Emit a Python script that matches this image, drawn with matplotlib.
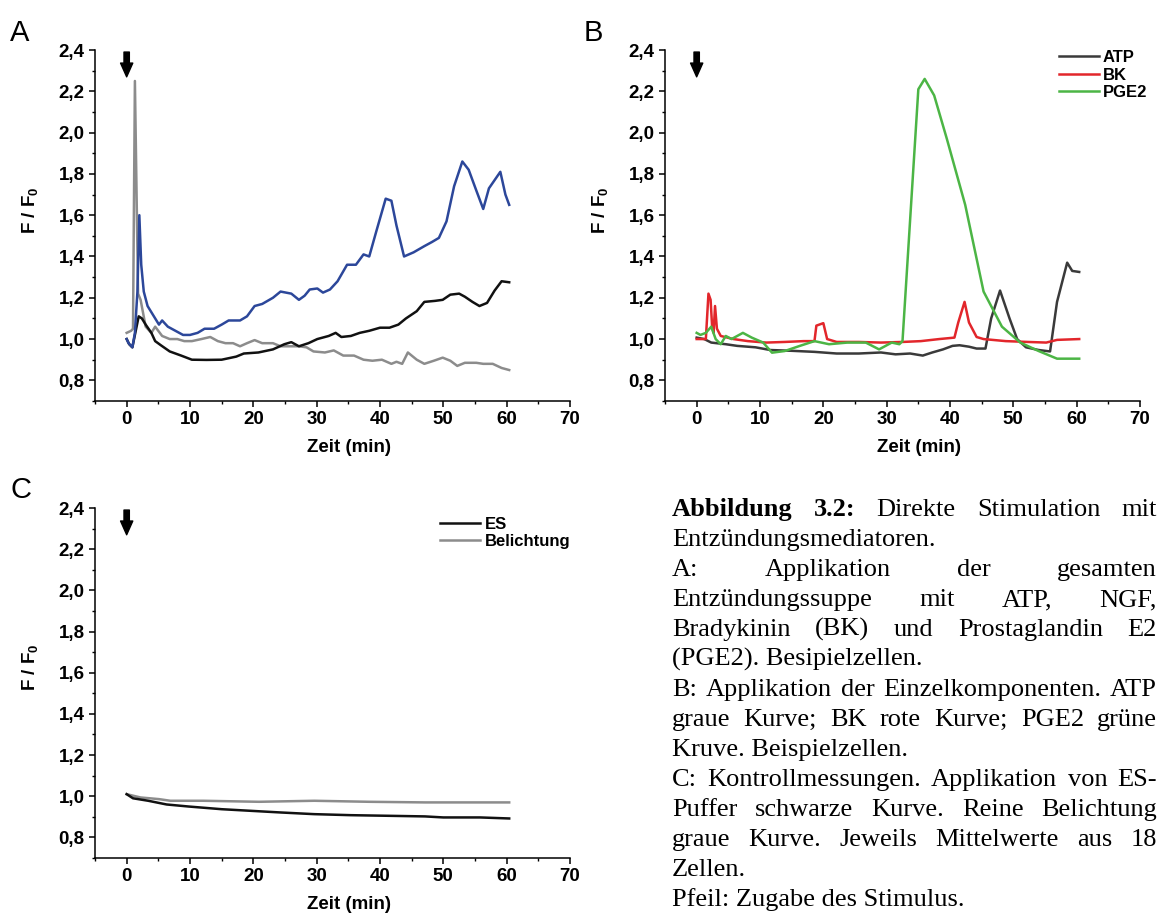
import numpy as np
import matplotlib
matplotlib.use("Agg")
import matplotlib.pyplot as plt
from matplotlib.ticker import MultipleLocator, FuncFormatter

# ---- data ----
# Panel A: whole inflammatory soup, example cells
a_blue_t = [0, 0.3, 0.9, 1.3, 1.7, 2.0, 2.3, 2.7, 3.3, 3.9, 4.5, 5.1, 5.6, 6.5, 7.7, 8.9, 10.0, 11.2,
            12.3, 13.8, 15.0, 16.1, 17.9, 19.0, 20.2, 21.4, 23.1, 24.3, 26.0, 27.2, 28.1, 28.9, 30.1,
            31.0, 32.1, 33.3, 34.8, 36.2, 37.4, 38.3, 39.4, 40.9, 41.8, 42.6, 43.8, 45.3, 47.0, 48.2,
            49.3, 50.5, 51.7, 53.0, 54.0, 55.2, 56.3, 57.2, 59.0, 59.8, 60.4]
a_blue_v = [1.00, 0.98, 0.96, 1.03, 1.23, 1.60, 1.36, 1.23, 1.16, 1.13, 1.10, 1.07, 1.09, 1.06, 1.04,
            1.02, 1.02, 1.03, 1.05, 1.05, 1.07, 1.09, 1.09, 1.11, 1.16, 1.17, 1.20, 1.23, 1.22, 1.19,
            1.21, 1.24, 1.245, 1.225, 1.24, 1.28, 1.36, 1.36, 1.41, 1.40, 1.52, 1.68, 1.67, 1.55, 1.40,
            1.42, 1.45, 1.47, 1.49, 1.57, 1.74, 1.86, 1.82, 1.72, 1.63, 1.73, 1.81, 1.70, 1.65]

a_black_t = [0, 0.4, 0.9, 1.3, 1.9, 2.4, 3.0, 3.9, 4.5, 5.4, 6.8, 8.6, 10.3, 12.6, 15.0, 17.3, 18.5,
             20.8, 23.1, 24.9, 26.0, 27.2, 28.7, 30.1, 31.9, 33.0, 33.9, 35.4, 36.8, 38.3, 40.0, 41.5,
             42.9, 44.1, 45.8, 47.0, 48.7, 49.9, 51.1, 52.5, 53.4, 54.6, 55.7, 56.9, 58.1, 59.2, 60.4]
a_black_v = [1.00, 0.975, 0.96, 1.02, 1.11, 1.10, 1.07, 1.03, 0.99, 0.97, 0.94, 0.92, 0.90, 0.899,
             0.90, 0.915, 0.93, 0.935, 0.95, 0.975, 0.985, 0.965, 0.98, 1.00, 1.015, 1.03, 1.01, 1.015,
             1.03, 1.04, 1.055, 1.055, 1.07, 1.10, 1.135, 1.18, 1.185, 1.19, 1.215, 1.22, 1.205, 1.18,
             1.16, 1.175, 1.235, 1.28, 1.275]

a_grey_t = [0, 0.7, 1.0, 1.3, 1.8, 2.2, 3.0, 3.9, 4.5, 5.6, 6.8, 8.0, 9.1, 10.3, 11.8, 13.2, 14.4,
            15.6, 16.8, 17.9, 19.0, 20.2, 21.4, 23.1, 24.3, 26.0, 27.2, 28.4, 29.5, 31.3, 32.7, 34.2,
            35.9, 37.4, 38.8, 40.3, 41.8, 42.6, 43.5, 44.4, 45.8, 47.0, 48.5, 49.9, 51.1, 52.2, 53.4,
            55.2, 56.3, 57.8, 59.2, 60.4]
a_grey_v = [1.03, 1.04, 1.05, 2.25, 1.22, 1.19, 1.06, 1.03, 1.06, 1.015, 1.00, 1.00, 0.99, 0.99,
            1.00, 1.01, 0.99, 0.98, 0.98, 0.965, 0.98, 0.995, 0.98, 0.98, 0.965, 0.965, 0.965, 0.96,
            0.94, 0.935, 0.945, 0.92, 0.92, 0.90, 0.895, 0.90, 0.88, 0.89, 0.88, 0.935, 0.90, 0.88,
            0.895, 0.91, 0.895, 0.87, 0.885, 0.885, 0.88, 0.88, 0.86, 0.85]

# Panel B: single components
b_atp_t = [0, 1.2, 2.3, 4.6, 6.4, 9.3, 11.6, 15.1, 18.6, 22.1, 25.6, 29.1, 31.4, 33.7, 35.7, 37.2,
           38.9, 40.4, 41.5, 43.0, 44.2, 45.6, 46.5, 47.9, 49.4, 50.6, 52.0, 54.0, 55.8, 56.9, 58.5,
           59.3, 60.4]
b_atp_v = [1.007, 1.0, 0.983, 0.975, 0.967, 0.96, 0.947, 0.943, 0.938, 0.93, 0.93, 0.935, 0.926,
           0.93, 0.92, 0.935, 0.95, 0.967, 0.97, 0.963, 0.954, 0.954, 1.10, 1.235, 1.10, 1.0, 0.96,
           0.947, 0.94, 1.18, 1.37, 1.33, 1.325]

b_bk_t = [0, 1.45, 1.86, 2.2, 2.44, 2.67, 2.9, 3.2, 3.8, 5.8, 8.1, 11.0, 13.9, 16.9, 18.6, 18.9,
          20.0, 20.6, 22.1, 25.6, 29.1, 32.5, 35.4, 38.3, 40.7, 41.3, 42.3, 43.0, 44.2, 45.3, 48.8,
          52.3, 55.2, 56.9, 60.4]
b_bk_v = [1.0, 1.0, 1.22, 1.19, 1.06, 1.03, 1.16, 1.05, 1.015, 1.0, 0.99, 0.983, 0.986, 0.99, 0.99,
          1.065, 1.077, 1.0, 0.986, 0.986, 0.983, 0.986, 0.99, 1.0, 1.007, 1.08, 1.18, 1.08, 1.01,
          1.0, 0.99, 0.986, 0.983, 0.996, 1.0]

b_pge2_t = [0, 0.6, 1.45, 2.3, 3.0, 3.8, 4.6, 5.5, 7.3, 8.7, 10.5, 11.9, 13.9, 16.3, 18.6, 20.9,
            23.8, 26.7, 28.8, 30.8, 32.0, 32.5, 35.0, 36.0, 37.5, 39.5, 42.4, 45.3, 48.2, 51.1, 54.0,
            56.9, 60.4]
b_pge2_v = [1.03, 1.02, 1.03, 1.06, 1.0, 0.975, 1.015, 1.0, 1.03, 1.007, 0.983, 0.934, 0.942, 0.967,
            0.99, 0.975, 0.983, 0.983, 0.95, 0.983, 0.975, 0.99, 2.21, 2.26, 2.18, 1.97, 1.65, 1.23,
            1.06, 0.983, 0.942, 0.905, 0.905]

# Panel C: controls, mean of 18 cells
c_es_t = [0, 1.0, 3.4, 6.3, 9.8, 15.0, 19.7, 24.4, 29.6, 35.4, 41.3, 47.1, 50.0, 55.8, 60.4]
c_es_v = [1.01, 0.99, 0.978, 0.96, 0.95, 0.937, 0.929, 0.921, 0.913, 0.908, 0.905, 0.902, 0.897,
          0.897, 0.892]
c_bel_t = [0, 2.2, 5.1, 6.9, 12.1, 20.9, 29.6, 38.3, 47.1, 55.8, 60.4]
c_bel_v = [1.01, 0.994, 0.986, 0.978, 0.978, 0.973, 0.978, 0.973, 0.97, 0.97, 0.97]

stimulus_time = 0          # arrow: addition of the stimulus
x_ticks = [0, 10, 20, 30, 40, 50, 60, 70]
y_ticks = [0.8, 1.0, 1.2, 1.4, 1.6, 1.8, 2.0, 2.2, 2.4]

caption_lines = [
    "Abbildung 3.2: Direkte Stimulation mit",
    "Entzündungsmediatoren.",
    "A: Applikation der gesamten",
    "Entzündungssuppe mit ATP, NGF,",
    "Bradykinin (BK) und Prostaglandin E2",
    "(PGE2). Besipielzellen.",
    "B: Applikation der Einzelkomponenten. ATP",
    "graue Kurve; BK rote Kurve; PGE2 grüne",
    "Kruve. Beispielzellen.",
    "C: Kontrollmessungen. Applikation von ES-",
    "Puffer schwarze Kurve. Reine Belichtung",
    "graue Kurve. Jeweils Mittelwerte aus 18",
    "Zellen.",
    "Pfeil: Zugabe des Stimulus.",
]
caption_justify = [True, False, True, True, True, False, True, True, False, True, True, True, False, False]
caption_bold_words = 2     # "Abbildung 3.2:" in bold

# ---- style ----
SANS = ["Liberation Sans", "DejaVu Sans"]
SERIF = ["Liberation Serif", "DejaVu Serif"]
plt.rcParams["font.family"] = SANS

W, H = 1158, 917
fig = plt.figure(figsize=(W / 100, H / 100), dpi=100)

def frac(left, top, right, bottom):
    return [left / W, 1 - bottom / H, (right - left) / W, (bottom - top) / H]

axA = fig.add_axes(frac(95, 50, 570, 401))
axB = fig.add_axes(frac(665, 50, 1140, 401))
axC = fig.add_axes(frac(95, 508, 570, 858))


def style_axis(ax):
    ax.set_xlim(-5, 70)
    ax.set_ylim(0.7, 2.4)
    for s in ["top", "right"]:
        ax.spines[s].set_visible(False)
    for s in ["left", "bottom"]:
        ax.spines[s].set_linewidth(1.1)
    ax.set_xticks(x_ticks)
    ax.set_yticks(y_ticks)
    ax.xaxis.set_minor_locator(MultipleLocator(5))
    ax.yaxis.set_minor_locator(MultipleLocator(0.1))
    ax.yaxis.set_major_formatter(FuncFormatter(lambda v, p: f"{v:.1f}".replace(".", ",")))
    ax.tick_params(which="major", direction="out", length=4.5, width=1.1, pad=3,
                   labelsize=13.5)
    ax.tick_params(which="minor", direction="out", length=2.5, width=1.0)
    for lab in ax.get_xticklabels() + ax.get_yticklabels():
        lab.set_fontweight("bold")
    ax.set_xlabel("Zeit (min)", fontsize=13.5, fontweight="bold")
    ax.xaxis.set_label_coords(0.534, -0.108)
    ax.text(-0.136, 0.544, r"F / F$_\mathregular{0}$", transform=ax.transAxes,
            rotation=90, ha="center", va="center", fontsize=13.5, fontweight="bold")
    ax.annotate("", xy=(stimulus_time, 2.27), xytext=(stimulus_time, 2.39),
                arrowprops=dict(arrowstyle="simple,head_length=0.9,head_width=0.8,tail_width=0.35",
                                color="black", mutation_scale=11, shrinkA=0, shrinkB=0))


lw = 1.8
axA.plot(a_grey_t, a_grey_v, color="#8c8c8c", lw=lw)
axA.plot(a_black_t, a_black_v, color="#111111", lw=lw)
axA.plot(a_blue_t, a_blue_v, color="#2c479a", lw=lw)
style_axis(axA)

axB.plot(b_atp_t, b_atp_v, color="#3a3a3a", lw=lw, label="ATP")
axB.plot(b_bk_t, b_bk_v, color="#e2262b", lw=lw, label="BK")
axB.plot(b_pge2_t, b_pge2_v, color="#4cb545", lw=lw, label="PGE2")
style_axis(axB)
axB.legend(loc="upper right", bbox_to_anchor=(1.015, 1.0), frameon=False, borderaxespad=0,
           borderpad=0, handlelength=2.4, handletextpad=0.25, labelspacing=0.15,
           prop={"weight": "bold", "size": 12})

axC.plot(c_bel_t, c_bel_v, color="#8c8c8c", lw=lw, label="Belichtung")
axC.plot(c_es_t, c_es_v, color="#111111", lw=lw, label="ES")
style_axis(axC)
h, l = axC.get_legend_handles_labels()
axC.legend(h[::-1], l[::-1], loc="upper right", bbox_to_anchor=(1.0, 0.975), frameon=False,
           borderaxespad=0, borderpad=0, handlelength=2.4, handletextpad=0.25, labelspacing=0.15,
           prop={"weight": "bold", "size": 12})

# panel letters
for letter, x, y in [("A", 10, 41), ("B", 584, 41), ("C", 10, 498)]:
    fig.text(x / W, 1 - y / H, letter, fontsize=21, ha="left", va="baseline")

# ---- justified caption ----
renderer = fig.canvas.get_renderer()
cap_left, cap_right = 672, 1157
cap_base, cap_step = 516, 30.0
cap_size = 19
for i, (line, just) in enumerate(zip(caption_lines, caption_justify)):
    yb = 1 - (cap_base + i * cap_step) / H
    words = line.split(" ")
    if not just:
        fig.text(cap_left / W, yb, line, fontsize=cap_size, family=SERIF, va="baseline")
        continue
    objs = []
    for j, w in enumerate(words):
        weight = "bold" if (i == 0 and j < caption_bold_words) else "normal"
        objs.append(fig.text(0, yb, w, fontsize=cap_size, family=SERIF, weight=weight,
                             va="baseline"))
    widths = [o.get_window_extent(renderer).width for o in objs]
    gap = (cap_right - cap_left - sum(widths)) / (len(objs) - 1)
    x = cap_left
    for o, wd in zip(objs, widths):
        o.set_x(x / W)
        x += wd + gap

fig.savefig("out.png", dpi=100)
